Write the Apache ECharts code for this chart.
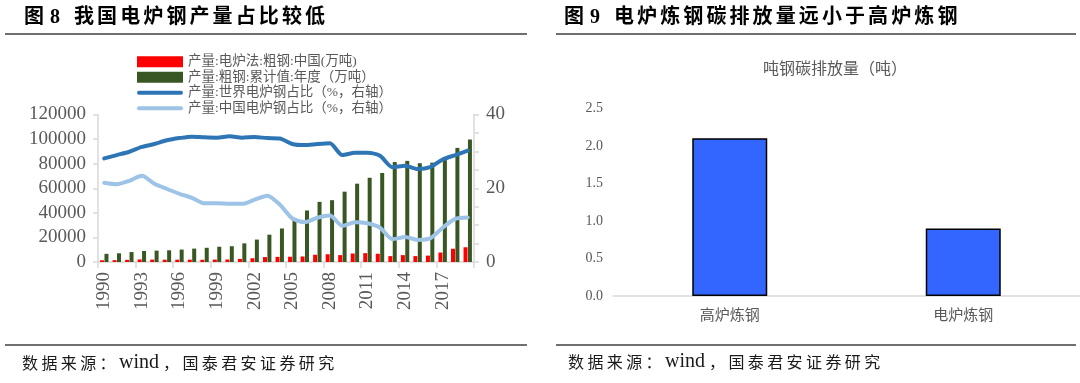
<!DOCTYPE html>
<html>
<head>
<meta charset="utf-8">
<script src="https://cdn.jsdelivr.net/npm/echarts@6/dist/echarts.min.js"></script>
<style>
html,body{margin:0;padding:0;background:#fff;}
#c{width:1080px;height:383px;}
</style>
</head>
<body>
<div id="c"></div>
<script>
// ---------- data ----------
const years = ['1990','1991','1992','1993','1994','1995','1996','1997','1998','1999','2000','2001','2002','2003','2004','2005','2006','2007','2008','2009','2010','2011','2012','2013','2014','2015','2016','2017','2018','2019'];
const eafChinaOutput = [1400,1500,1780,2100,1960,1890,1870,1900,1840,1970,2030,2560,3080,4000,4200,4300,4500,5900,6300,5600,6900,7200,6700,4800,5600,4800,5200,7700,10800,12000];
const crudeSteelOutput = [6635,7100,8094,8956,9261,9536,10124,10894,11559,12426,12850,15163,18237,22234,27280,35324,41915,48929,50305,57218,63723,68528,72388,81314,82270,80383,80837,83173,92826,99634];
const worldEafShare = [28.1,29.0,29.9,31.2,32.0,33.0,33.6,34.0,33.8,33.7,34.1,33.7,33.9,33.6,33.5,32.0,31.7,32.0,32.2,29.0,29.6,29.6,28.8,25.7,26.1,25.2,25.7,27.8,29.0,30.2];
const chinaEafShare = [21.5,21.1,22.0,23.4,21.2,19.8,18.5,17.4,15.9,15.9,15.8,15.8,16.9,18.0,15.6,11.8,10.8,12.0,12.6,9.8,10.8,10.5,9.3,6.2,6.8,6.0,6.4,9.3,11.7,12.1];
const seriesNames = ['产量:电炉法:粗钢:中国(万吨)','产量:粗钢:累计值:年度（万吨）','产量:世界电炉钢占比（%，右轴）','产量:中国电炉钢占比（%，右轴）'];

const carbonCategories = ['高炉炼钢','电炉炼钢'];
const carbonPerTon = [2.1, 0.9];
const carbonTitle = '吨钢碳排放量（吨）';

const title1 = ['图','8','我国电炉钢产量占比较低'];
const title2 = ['图','9','电炉炼钢碳排放量远小于高炉炼钢'];
const sourceParts = ['数据来源：', 'wind', '，国泰君安证券研究'];

// ---------- helpers ----------
const FF = '"Liberation Serif","Noto Sans CJK SC",serif';
const CJK = '"Noto Sans CJK SC",sans-serif';
const GREY = '#595959';

function titleGraphics(parts, x0) {
  const els = [];
  const base = { fontSize: 20, fontWeight: 'bold', fontFamily: FF, fill: '#000', textVerticalAlign: 'middle' };
  els.push({ type: 'text', x: x0, y: 18, style: Object.assign({ text: parts[0] }, base) });
  els.push({ type: 'text', x: x0 + 26, y: 18, style: Object.assign({ text: parts[1] }, base) });
  Array.from(parts[2]).forEach((ch, i) => {
    els.push({ type: 'text', x: x0 + 50 + i * 23.1, y: 18, style: Object.assign({ text: ch }, base) });
  });
  return els;
}

function sourceGraphics(parts, x0, y) {
  const els = [];
  const step = 19.4;
  const cjkStyle = { fontSize: 16, fontFamily: CJK, fill: '#1a1a1a', textVerticalAlign: 'middle' };
  let x = x0;
  Array.from(parts[0]).forEach(ch => {
    els.push({ type: 'text', x: x, y: y, style: Object.assign({ text: ch }, cjkStyle) });
    x += step;
  });
  els.push({ type: 'text', x: x, y: y, style: { text: parts[1], fontSize: 20, fontFamily: '"Liberation Serif",serif', fill: '#1a1a1a', textVerticalAlign: 'middle' } });
  x += 44;
  Array.from(parts[2]).forEach(ch => {
    els.push({ type: 'text', x: x, y: y, style: Object.assign({ text: ch }, cjkStyle) });
    x += step;
  });
  return els;
}

const lineIcon = 'path://M2,0H44A2,2 0 0 1 44,4H2A2,2 0 0 1 2,0Z';

const chart = echarts.init(document.getElementById('c'), null, { renderer: 'canvas' });

const option = {
  animation: false,
  backgroundColor: '#fff',
  textStyle: { fontFamily: FF },
  legend: {
    orient: 'vertical',
    left: 137,
    top: 55,
    padding: 0,
    itemWidth: 46,
    itemHeight: 11,
    itemGap: 2,
    textStyle: { fontSize: 13.5, lineHeight: 13, color: GREY, fontFamily: FF },
    data: [
      { name: seriesNames[0], icon: 'rect' },
      { name: seriesNames[1], icon: 'rect' },
      { name: seriesNames[2], icon: lineIcon },
      { name: seriesNames[3], icon: lineIcon }
    ]
  },
  grid: [
    { left: 98, top: 114.5, width: 376, height: 147.5 },
    { left: 613, top: 108.3, width: 474, height: 187.7 }
  ],
  xAxis: [
    {
      type: 'category', gridIndex: 0, data: years,
      axisLine: { lineStyle: { color: '#d9d9d9', width: 1.5 } },
      axisTick: { show: true, interval: 2, length: 6, lineStyle: { color: '#d9d9d9', width: 1.5 } },
      axisLabel: { interval: 2, rotate: 90, margin: 10, fontSize: 19, color: GREY, fontFamily: FF }
    },
    {
      type: 'category', gridIndex: 1, data: carbonCategories,
      axisLine: { lineStyle: { color: '#d9d9d9', width: 1.5 } },
      axisTick: { show: false },
      axisLabel: { margin: 11, fontSize: 15, color: GREY, fontFamily: CJK }
    }
  ],
  yAxis: [
    {
      type: 'value', gridIndex: 0, min: 0, max: 120000, interval: 20000,
      axisLine: { show: true, lineStyle: { color: '#d9d9d9', width: 1.5 } },
      axisTick: { show: true, length: 5, lineStyle: { color: '#d9d9d9', width: 1.5 } },
      splitLine: { show: false },
      axisLabel: { margin: 12, fontSize: 19, color: GREY, fontFamily: FF, formatter: v => String(v) }
    },
    {
      type: 'value', gridIndex: 0, position: 'right', min: 0, max: 40, interval: 5,
      axisLine: { show: true, lineStyle: { color: '#d9d9d9', width: 1.5 } },
      axisTick: { show: true, length: 5, lineStyle: { color: '#d9d9d9', width: 1.5 } },
      splitLine: { show: false },
      axisLabel: { margin: 12, fontSize: 19, color: GREY, fontFamily: FF,
        formatter: v => (v % 20 === 0 ? String(v) : '') }
    },
    {
      type: 'value', gridIndex: 1, min: 0, max: 2.5, interval: 0.5,
      axisLine: { show: false }, axisTick: { show: false },
      splitLine: { show: false },
      axisLabel: { margin: 10, fontSize: 14, color: GREY, fontFamily: FF, formatter: v => v.toFixed(1) }
    }
  ],
  series: [
    {
      name: seriesNames[0], type: 'bar', xAxisIndex: 0, yAxisIndex: 0,
      data: eafChinaOutput, barWidth: 4, barGap: '10%',
      itemStyle: { color: '#ff0000' }
    },
    {
      name: seriesNames[1], type: 'bar', xAxisIndex: 0, yAxisIndex: 0,
      data: crudeSteelOutput, barWidth: 4, barGap: '10%',
      itemStyle: { color: '#385723' }
    },
    {
      name: seriesNames[2], type: 'line', xAxisIndex: 0, yAxisIndex: 1,
      data: worldEafShare, symbol: 'none', smooth: 0.25, color: '#2e75b6',
      lineStyle: { width: 4, color: '#2e75b6', cap: 'round', join: 'round' },
      itemStyle: { color: '#2e75b6' }
    },
    {
      name: seriesNames[3], type: 'line', xAxisIndex: 0, yAxisIndex: 1,
      data: chinaEafShare, symbol: 'none', smooth: 0.25, color: '#9dc3e6',
      lineStyle: { width: 4, color: '#9dc3e6', cap: 'round', join: 'round' },
      itemStyle: { color: '#9dc3e6' }
    },
    {
      name: carbonTitle, type: 'bar', xAxisIndex: 1, yAxisIndex: 2,
      data: carbonPerTon, barWidth: 75,
      itemStyle: { color: '#3366ff', borderColor: '#000', borderWidth: 1.5 }
    }
  ],
  graphic: [].concat(
    titleGraphics(title1, 24),
    titleGraphics(title2, 564),
    sourceGraphics(sourceParts, 22, 363),
    sourceGraphics(sourceParts, 568, 362),
    [
      { type: 'line', shape: { x1: 5, y1: 34, x2: 527, y2: 34 }, style: { stroke: '#404040', lineWidth: 1.5 } },
      { type: 'line', shape: { x1: 556, y1: 34, x2: 1076, y2: 34 }, style: { stroke: '#404040', lineWidth: 1.5 } },
      { type: 'line', shape: { x1: 5, y1: 345, x2: 527, y2: 345 }, style: { stroke: '#404040', lineWidth: 1.5 } },
      { type: 'line', shape: { x1: 556, y1: 345, x2: 1076, y2: 345 }, style: { stroke: '#404040', lineWidth: 1.5 } },
      { type: 'text', x: 835, y: 68, style: { text: carbonTitle, fontSize: 16, fontFamily: CJK, fill: GREY, textAlign: 'center', textVerticalAlign: 'middle' } }
    ]
  )
};
chart.setOption(option);
</script>
</body>
</html>
